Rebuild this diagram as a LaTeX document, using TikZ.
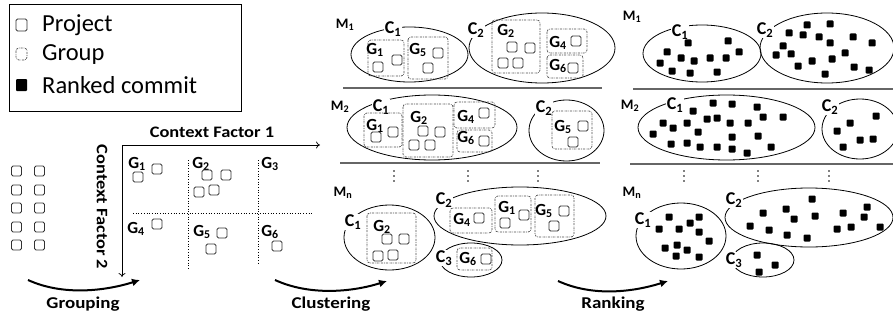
\documentclass[tikz,border=0pt]{standalone}
\usepackage{fontspec}
\setmainfont{Carlito}
\usetikzlibrary{arrows.meta}

\tikzset{
  prj/.style={draw=black!80, line width=0.9pt, rounded corners=1.5pt},
  rcm/.style={fill=black, rounded corners=1pt},
  grp/.style={draw=black!70, line width=0.7pt, dash pattern=on 2pt off 1pt on 0.6pt off 1pt, rounded corners=3pt},
  clu/.style={draw=black, line width=0.8pt},
  sep/.style={draw=black!60, line width=1.3pt},
  glbl/.style={font=\bfseries\fontsize{17}{17}\selectfont, inner sep=0.5pt},
  clbl/.style={font=\bfseries\fontsize{18}{18}\selectfont, inner sep=0.8pt, fill=white},
  mlbl/.style={font=\bfseries\fontsize{14.5}{14.5}\selectfont, inner sep=0.5pt},
  steplbl/.style={font=\bfseries\fontsize{16.5}{16.5}\selectfont, inner sep=0pt},
  leglbl/.style={anchor=west, font=\fontsize{24.5}{24.5}\selectfont, inner sep=0pt},
  bigarrow/.style={line width=2pt, -{Latex[length=8pt,width=8pt]}},
  axis/.style={line width=0.7pt, -{To[length=4pt,width=7pt]}},
  grid/.style={line width=0.7pt, dotted}
}
\newcommand{\prj}[2]{\draw[prj] (#1,#2) ++(-5,-5) rectangle ++(10,10);}
\newcommand{\rcm}[2]{\fill[rcm] (#1,#2) ++(-3.5,-3.5) rectangle ++(7,7);}
\newcommand{\vdotz}[1]{\foreach \yy in {171,176,181} {\fill (#1,\yy) circle (0.9);}}
\newcommand{\wide}[1]{\scalebox{1.15}[1]{#1}}

\begin{document}
\begin{tikzpicture}[x=1pt,y=-1pt]
\useasboundingbox (0,0) rectangle (893,321);

% legend
\draw[line width=0.9pt] (9,4) rectangle (241,111);
\draw[prj] (16,19) rectangle (27,31);
\draw[grp] (16,48) rectangle (27,60);
\fill[rcm] (16,79) rectangle (27,91);
\node[leglbl] (lgprj) at (42,25) {Project};
\node[leglbl] (lggrp) at (42,55) {Group};
\node[leglbl] (lgrcm) at (42,85) {Ranked commit};

% ungrouped projects
\foreach \y in {171,190,208,227,245} {\prj{16.5}{\y}\prj{39.5}{\y}}

% grouping by context factors
\coordinate (orig) at (122,145);
\coordinate (cfAend) at (320,145);
\coordinate (cfBend) at (122,277);
\draw[axis] (orig) -- (cfAend);
\draw[axis] (orig) -- (cfBend);
\node[mlbl, font=\bfseries\fontsize{16}{16}\selectfont] (cfA) at (212,132) {\wide{Context Factor 1}};
\node[mlbl, font=\bfseries\fontsize{16}{16}\selectfont, rotate=-90] (cfB) at (102,207) {\wide{Context Factor 2}};
\draw[grid] (188,160) -- (188,270);
\draw[grid] (258,160) -- (258,265);
\draw[grid] (133,213) -- (312,213);
\node[glbl] (fg1) at (137,164) {G\textsubscript{1}};
\node[glbl] (fg2) at (201,164) {G\textsubscript{2}};
\node[glbl] (fg3) at (270,164) {G\textsubscript{3}};
\node[glbl] (fg4) at (136,229) {G\textsubscript{4}};
\node[glbl] (fg5) at (202,232) {G\textsubscript{5}};
\node[glbl] (fg6) at (270,232) {G\textsubscript{6}};
\prj{157}{169}\prj{138}{177}
\prj{207}{175}\prj{226}{175}\prj{199}{192}\prj{214}{190}
\prj{157}{224}
\prj{222}{233}\prj{211}{249}
\prj{277}{246}

% step arrows
\coordinate (grpS) at (28,280);
\coordinate (grpE) at (140,280);
\coordinate (cluS) at (275,280);
\coordinate (cluE) at (387,281);
\coordinate (rnkS) at (558,281);
\coordinate (rnkE) at (668,281);
\draw[bigarrow] (grpS) .. controls +(35,16) and +(-35,11) .. (grpE);
\draw[bigarrow] (cluS) .. controls +(35,16) and +(-35,11) .. (cluE);
\draw[bigarrow] (rnkS) .. controls +(35,16) and +(-35,11) .. (rnkE);
\node[steplbl] (grping) at (83,304) {\wide{Grouping}};
\node[steplbl] (cluing) at (331,304) {\wide{Clustering}};
\node[steplbl] (rnking) at (613,304) {\wide{Ranking}};

% clustering: model 1
\node[mlbl] (cm1) at (345,25) {M\textsubscript{1}};
\draw[clu] (409.5,54.5) ellipse (58.5 and 27.5);
\draw[clu] (542,48) ellipse (73 and 35);
\node[clbl] (cm1c1) at (393,29) {C\textsubscript{1}};
\node[clbl] (cm1c2) at (476,30) {C\textsubscript{2}};
\draw[grp] (368,40) rectangle (404,76);
\draw[grp] (408,37) rectangle (448,79);
\draw[grp] (492,20) rectangle (540,73);
\draw[grp] (547,29) rectangle (587,53);
\draw[grp] (547,55) rectangle (583,78);
\node[glbl] (cm1g1) at (375,50) {G\textsubscript{1}};
\node[glbl] (cm1g5) at (418,50) {G\textsubscript{5}};
\node[glbl] (cm1g2) at (506,31) {G\textsubscript{2}};
\node[glbl] (cm1g4) at (558,43) {G\textsubscript{4}};
\node[glbl] (cm1g6) at (558,66) {G\textsubscript{6}};
\prj{397}{60}\prj{378}{67}
\prj{438}{53}\prj{428}{68}
\prj{512}{47}\prj{530}{48}\prj{503}{63}\prj{518}{63}
\prj{576}{41}
\prj{573}{68}
\draw[sep] (343,88) -- (602,88);

% clustering: model 2
\node[mlbl] (cm2) at (340,107) {M\textsubscript{2}};
\draw[clu] (432,127.5) ellipse (85 and 32.5);
\draw[clu] (566.5,130.5) ellipse (37.5 and 30.5);
\node[clbl] (cm2c1) at (381,107) {C\textsubscript{1}};
\node[clbl] (cm2c2) at (544,108) {C\textsubscript{2}};
\draw[grp] (364,113) rectangle (402,147);
\draw[grp] (403,104) rectangle (453,157);
\draw[grp] (454,102) rectangle (495,128);
\draw[grp] (457,130) rectangle (492,152);
\draw[grp] (552,111) rectangle (592,149);
\node[glbl] (cm2g1) at (375,126) {G\textsubscript{1}};
\node[glbl] (cm2g2) at (419,118) {G\textsubscript{2}};
\node[glbl] (cm2g4) at (466,117) {G\textsubscript{4}};
\node[glbl] (cm2g6) at (466,138) {G\textsubscript{6}};
\node[glbl] (cm2g5) at (563,127) {G\textsubscript{5}};
\prj{393}{132}\prj{376}{137}
\prj{423}{131}\prj{440}{132}\prj{414}{145}\prj{430}{145}
\prj{484}{113}
\prj{484}{141}
\prj{583}{126}\prj{573}{142}
\draw[sep] (340,163) -- (600,163);
\vdotz{394}\vdotz{468}\vdotz{538}

% clustering: model n
\node[mlbl] (cmn) at (343,193) {M\textsubscript{n}};
\draw[clu] (389.5,237.5) ellipse (45.5 and 32.5);
\draw[clu] (520,216) ellipse (86 and 29);
\draw[clu] (471,260) ellipse (31 and 17);
\node[clbl] (cmnc1) at (353,222) {C\textsubscript{1}};
\node[clbl] (cmnc2) at (444,200) {C\textsubscript{2}};
\node[clbl] (cmnc3) at (444,258) {C\textsubscript{3}};
\draw[grp] (367,213) rectangle (416,263);
\draw[grp] (450,208) rectangle (492,233);
\draw[grp] (495,196) rectangle (531,232);
\draw[grp] (535,195) rectangle (574,237);
\draw[grp] (457,248) rectangle (492,270);
\node[glbl] (cmng2) at (382,227) {G\textsubscript{2}};
\node[glbl] (cmng4) at (462,220) {G\textsubscript{4}};
\node[glbl] (cmng1) at (507,208) {G\textsubscript{1}};
\node[glbl] (cmng5) at (544,211) {G\textsubscript{5}};
\node[glbl] (cmng6) at (468,259) {G\textsubscript{6}};
\prj{387}{239}\prj{404}{239}\prj{378}{256}\prj{393}{255}
\prj{479}{218}
\prj{524}{215}\prj{505}{223}
\prj{564}{211}\prj{554}{226}
\prj{486}{259}

% ranking: model 1
\node[mlbl] (rm1) at (632,17) {M\textsubscript{1}};
\draw[clu] (702,53.5) ellipse (59 and 28.5);
\draw[clu] (827,48) ellipse (67 and 35);
\node[clbl] (rm1c1) at (680,32) {C\textsubscript{1}};
\node[clbl] (rm1c2) at (765,30) {C\textsubscript{2}};
\foreach \x/\y in {688/43,728/41,667/52,681/58,694/61,710/58,726/58,739/52,660/63,672/71,690/73,717/72}
  {\rcm{\x}{\y}}
\foreach \x/\y in {807/25,830/24,789/33,803/35,819/37,853/37,872/43,783/46,830/43,776/55,791/54,845/53,798/66,812/61,832/59,825/74,854/67,869/70}
  {\rcm{\x}{\y}}
\draw[sep] (633,89) -- (893,89);

% ranking: model 2
\node[mlbl] (rm2) at (630,106) {M\textsubscript{2}};
\draw[clu] (726.5,127.5) ellipse (88.5 and 32.5);
\draw[clu] (860,129) ellipse (38 and 30);
\node[clbl] (rm2c1) at (675,105) {C\textsubscript{1}};
\node[clbl] (rm2c2) at (830,107) {C\textsubscript{2}};
\foreach \x/\y in {693/111,713/103,732/104,757/107,663/123,673/128,687/123,707/119,717/118,730/123,748/123,763/117,783/117,698/132,653/134,732/137,758/136,671/144,687/143,700/147,717/147,732/149,747/153,771/147}
  {\rcm{\x}{\y}}
\foreach \x/\y in {876/116,850/123,837/131,860/140,873/139,843/147}
  {\rcm{\x}{\y}}
\draw[sep] (630,164) -- (893,164);
\vdotz{684}\vdotz{758}\vdotz{829}

% ranking: model n
\node[mlbl] (rmn) at (632,193) {M\textsubscript{n}};
\draw[clu] (681,236) ellipse (45 and 33);
\draw[clu] (809,217.5) ellipse (84 and 29.5);
\draw[clu] (763,260) ellipse (31 and 17);
\node[clbl] (rmnc1) at (643,220) {C\textsubscript{1}};
\node[clbl] (rmnc2) at (734,200) {C\textsubscript{2}};
\node[clbl] (rmnc3) at (734,260) {C\textsubscript{3}};
\foreach \x/\y in {669/217,699/217,659/229,679/229,690/223,699/232,709/241,665/248,677/245,676/256,687/250,699/257}
  {\rcm{\x}{\y}}
\foreach \x/\y in {812/199,763/213,786/209,794/219,815/216,843/213,867/207,864/217,750/226,769/230,787/235,807/238,837/229,851/227,880/227}
  {\rcm{\x}{\y}}
\foreach \x/\y in {757/255,775/265,759/272}
  {\rcm{\x}{\y}}
\end{tikzpicture}
\end{document}
